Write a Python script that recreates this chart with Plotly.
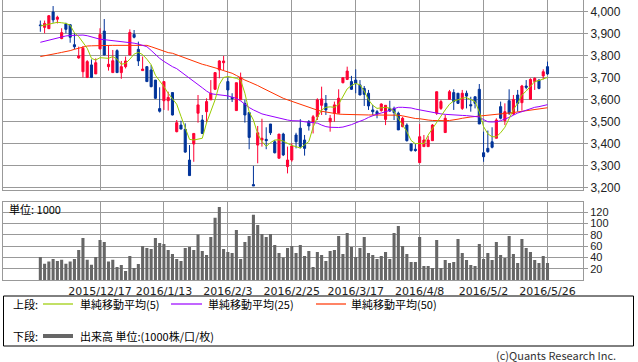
import plotly.graph_objects as go

# ---------------- data ----------------
dates = [
    "2015/11/27", "2015/11/30", "2015/12/1", "2015/12/2", "2015/12/3", "2015/12/4", "2015/12/7", "2015/12/8",
    "2015/12/9", "2015/12/10", "2015/12/11", "2015/12/14", "2015/12/15", "2015/12/16", "2015/12/17", "2015/12/18",
    "2015/12/21", "2015/12/22", "2015/12/24", "2015/12/25", "2015/12/28", "2015/12/29", "2015/12/30", "2016/1/4",
    "2016/1/5", "2016/1/6", "2016/1/7", "2016/1/8", "2016/1/12", "2016/1/13", "2016/1/14", "2016/1/15",
    "2016/1/18", "2016/1/19", "2016/1/20", "2016/1/21", "2016/1/22", "2016/1/25", "2016/1/26", "2016/1/27",
    "2016/1/28", "2016/1/29", "2016/2/1", "2016/2/2", "2016/2/3", "2016/2/4", "2016/2/5", "2016/2/8",
    "2016/2/9", "2016/2/10", "2016/2/12", "2016/2/15", "2016/2/16", "2016/2/17", "2016/2/18", "2016/2/19",
    "2016/2/22", "2016/2/23", "2016/2/24", "2016/2/25", "2016/2/26", "2016/2/29", "2016/3/1", "2016/3/2",
    "2016/3/3", "2016/3/4", "2016/3/7", "2016/3/8", "2016/3/9", "2016/3/10", "2016/3/11", "2016/3/14",
    "2016/3/15", "2016/3/16", "2016/3/17", "2016/3/18", "2016/3/22", "2016/3/23", "2016/3/24", "2016/3/25",
    "2016/3/28", "2016/3/29", "2016/3/30", "2016/3/31", "2016/4/1", "2016/4/4", "2016/4/5", "2016/4/6",
    "2016/4/7", "2016/4/8", "2016/4/11", "2016/4/12", "2016/4/13", "2016/4/14", "2016/4/15", "2016/4/18",
    "2016/4/19", "2016/4/20", "2016/4/21", "2016/4/22", "2016/4/25", "2016/4/26", "2016/4/27", "2016/4/28",
    "2016/5/2", "2016/5/6", "2016/5/9", "2016/5/10", "2016/5/11", "2016/5/12", "2016/5/13", "2016/5/16",
    "2016/5/17", "2016/5/18", "2016/5/19", "2016/5/20", "2016/5/23", "2016/5/24", "2016/5/25", "2016/5/26",
]

open_ = [
    3941, 3930, 3924, 4000, 3967, 3879, 3945, 3942, 3851, 3791, 3728, 3702, 3759, 3718, 3832, 3913,
    3751, 3724, 3824, 3724, 3751, 3804, 3898, 3830, 3733, 3751, 3736, 3690, 3560, 3596, 3596, 3633,
    3455, 3485, 3466, 3326, 3399, 3539, 3508, 3546, 3600, 3648, 3736, 3769, 3683, 3611, 3551, 3600,
    3584, 3542, 3214, 3394, 3417, 3420, 3490, 3409, 3334, 3444, 3296, 3326, 3440, 3471, 3417, 3500,
    3500, 3523, 3575, 3584, 3500, 3539, 3539, 3678, 3693, 3683, 3690, 3668, 3652, 3630, 3554, 3546,
    3551, 3511, 3561, 3561, 3539, 3478, 3485, 3399, 3375, 3314, 3387, 3387, 3414, 3539, 3561, 3451,
    3602, 3633, 3630, 3561, 3630, 3578, 3614, 3648, 3359, 3379, 3409, 3425, 3569, 3505, 3596, 3536,
    3622, 3587, 3663, 3602, 3683, 3690, 3709, 3751,
]
high = [
    3961, 3961, 3986, 4027, 3983, 3926, 3951, 3945, 3903, 3842, 3845, 3781, 3784, 3789, 3926, 3968,
    3847, 3827, 3830, 3777, 3797, 3921, 3918, 3865, 3797, 3754, 3759, 3690, 3657, 3683, 3637, 3633,
    3508, 3505, 3493, 3394, 3447, 3622, 3531, 3607, 3690, 3724, 3781, 3800, 3702, 3630, 3678, 3724,
    3600, 3542, 3299, 3481, 3514, 3475, 3490, 3417, 3444, 3450, 3387, 3402, 3450, 3512, 3440, 3508,
    3531, 3607, 3660, 3622, 3531, 3592, 3648, 3701, 3751, 3709, 3739, 3690, 3663, 3645, 3577, 3554,
    3584, 3575, 3596, 3569, 3546, 3523, 3493, 3402, 3399, 3490, 3440, 3435, 3490, 3637, 3600, 3531,
    3645, 3648, 3630, 3645, 3642, 3614, 3614, 3672, 3455, 3460, 3475, 3516, 3592, 3584, 3648, 3622,
    3645, 3668, 3690, 3698, 3702, 3693, 3739, 3774,
]
low = [
    3910, 3903, 3923, 3951, 3948, 3876, 3903, 3860, 3830, 3787, 3702, 3699, 3699, 3718, 3830, 3804,
    3733, 3724, 3724, 3696, 3743, 3804, 3880, 3754, 3733, 3683, 3657, 3604, 3542, 3554, 3551, 3529,
    3452, 3466, 3359, 3255, 3318, 3496, 3444, 3496, 3600, 3645, 3698, 3733, 3600, 3590, 3551, 3600,
    3496, 3375, 3208, 3311, 3387, 3375, 3440, 3356, 3334, 3344, 3265, 3318, 3379, 3379, 3346, 3460,
    3447, 3508, 3531, 3531, 3455, 3500, 3539, 3675, 3690, 3645, 3630, 3622, 3572, 3554, 3531, 3516,
    3546, 3485, 3546, 3508, 3463, 3475, 3410, 3364, 3364, 3314, 3387, 3387, 3414, 3531, 3554, 3451,
    3600, 3554, 3581, 3554, 3561, 3546, 3561, 3490, 3318, 3359, 3379, 3425, 3511, 3485, 3531, 3531,
    3546, 3551, 3648, 3602, 3645, 3648, 3693, 3713,
]
close = [
    3938, 3948, 3983, 3964, 3976, 3906, 3921, 3885, 3842, 3800, 3835, 3774, 3702, 3769, 3898, 3804,
    3762, 3778, 3724, 3751, 3777, 3907, 3885, 3777, 3740, 3683, 3660, 3607, 3548, 3683, 3611, 3531,
    3496, 3467, 3362, 3255, 3447, 3577, 3447, 3592, 3630, 3724, 3777, 3777, 3645, 3605, 3678, 3702,
    3531, 3429, 3208, 3450, 3425, 3414, 3450, 3359, 3444, 3349, 3326, 3390, 3409, 3387, 3379, 3481,
    3523, 3600, 3604, 3554, 3516, 3577, 3607, 3701, 3731, 3648, 3675, 3622, 3625, 3572, 3546, 3536,
    3581, 3575, 3549, 3542, 3463, 3516, 3414, 3369, 3369, 3432, 3417, 3417, 3485, 3637, 3592, 3516,
    3637, 3592, 3584, 3630, 3617, 3573, 3584, 3490, 3341, 3364, 3384, 3508, 3516, 3546, 3539, 3602,
    3584, 3663, 3657, 3693, 3698, 3652, 3728, 3718,
]

ma5 = [
    3936, 3940, 3944, 3948, 3953, 3951, 3948, 3940, 3905, 3888, 3860, 3835, 3789, 3781, 3792, 3790,
    3789, 3797, 3785, 3762, 3766, 3785, 3808, 3816, 3806, 3785, 3760, 3712, 3688, 3660, 3630, 3607,
    3580, 3525, 3470, 3420, 3417, 3420, 3425, 3495, 3550, 3600, 3670, 3702, 3706, 3702, 3698, 3690,
    3630, 3545, 3508, 3445, 3410, 3388, 3405, 3417, 3418, 3412, 3400, 3392, 3387, 3380, 3395, 3410,
    3475, 3520, 3554, 3566, 3568, 3566, 3580, 3615, 3650, 3665, 3675, 3668, 3640, 3600, 3575, 3561,
    3564, 3566, 3562, 3548, 3515, 3485, 3455, 3415, 3400, 3402, 3400, 3440, 3470, 3500, 3530, 3554,
    3580, 3595, 3600, 3608, 3610, 3600, 3592, 3545, 3478, 3445, 3432, 3432, 3450, 3475, 3515, 3555,
    3585, 3622, 3640, 3660, 3683, 3688, 3696, 3702,
]
ma25 = [
    3862, 3867, 3871, 3876, 3881, 3886, 3891, 3893, 3894, 3895, 3895, 3892, 3886, 3881, 3876, 3874,
    3872, 3870, 3868, 3866, 3865, 3862, 3858, 3854, 3848, 3842, 3825, 3805, 3789, 3775, 3762, 3751,
    3742, 3728, 3713, 3700, 3685, 3670, 3655, 3640, 3628, 3625, 3623, 3622, 3618, 3612, 3607, 3595,
    3578, 3565, 3554, 3545, 3536, 3531, 3526, 3521, 3516, 3512, 3508, 3505, 3505, 3504, 3500, 3497,
    3497, 3494, 3485, 3478, 3475, 3474, 3474, 3476, 3480, 3487, 3495, 3502, 3510, 3520, 3528, 3535,
    3540, 3545, 3552, 3560, 3566, 3566, 3565, 3563, 3558, 3554, 3550, 3546, 3542, 3539, 3536, 3534,
    3532, 3531, 3530, 3529, 3528, 3527, 3526, 3522, 3510, 3500, 3499, 3500, 3505, 3511, 3520, 3530,
    3540, 3546, 3553, 3560, 3566, 3569, 3572, 3578,
]
ma50 = [
    3797, 3800, 3804, 3808, 3812, 3816, 3819, 3824, 3830, 3835, 3840, 3845, 3846, 3847, 3848, 3848,
    3848, 3848, 3848, 3848, 3848, 3848, 3848, 3848, 3848, 3848, 3842, 3835, 3828, 3820, 3815, 3812,
    3805, 3797, 3789, 3782, 3775, 3767, 3762, 3757, 3752, 3746, 3740, 3733, 3727, 3721, 3711, 3700,
    3690, 3682, 3675, 3665, 3655, 3645, 3635, 3625, 3616, 3607, 3600, 3593, 3587, 3582, 3574, 3566,
    3560, 3553, 3548, 3544, 3540, 3537, 3535, 3534, 3533, 3532, 3531, 3531, 3531, 3531, 3531, 3531,
    3531, 3531, 3531, 3531, 3530, 3527, 3522, 3518, 3515, 3514, 3510, 3508, 3506, 3505, 3505, 3505,
    3506, 3508, 3512, 3516, 3520, 3522, 3524, 3526, 3527, 3528, 3529, 3531, 3533, 3536, 3539, 3542,
    3545, 3548, 3551, 3554, 3557, 3560, 3562, 3564,
]

volume = [
    41, 29, 33, 37.6, 34, 36, 29, 33, 37.6, 53.5, 74.6, 36, 27.6, 41, 71, 67.5,
    33, 36, 23.5, 27, 16.4, 43, 21.7, 28.8, 60.5, 57, 55, 74.6, 65.8, 64, 53.5, 46.4,
    37.6, 34, 57, 58.7, 53.5, 80.5, 51.7, 44.6, 76.4, 110, 129, 55, 50, 48, 88.7, 37.6,
    67.5, 78, 115.7, 97.5, 81.6, 76.4, 81.6, 62, 48, 40, 57, 60.5,
    48, 62, 43, 51.7, 23.5, 50, 44.6, 34, 51.7, 53.5, 78, 46.4, 83.4, 58.7, 41, 57,
    76.4, 48, 44.6, 37.6, 43, 50, 37.6, 83.4, 95.7, 60.5, 46.4, 32.3, 32.3, 76.4, 25.3, 25.3,
    21.7, 71, 21.7, 35.8, 30.5, 32.3, 72.8, 48, 35.8, 27, 25.3, 64, 37.6, 48, 35.8, 67.5,
    44.6, 39.4, 78, 46.4, 30.5, 72.8, 57, 50, 35.8, 30.5, 43, 30.5,
]

tick_dates = ["2015/12/17", "2016/1/13", "2016/2/3", "2016/2/25", "2016/3/17", "2016/4/8", "2016/5/2", "2016/5/26"]
price_ticks = [3200, 3300, 3400, 3500, 3600, 3700, 3800, 3900, 4000]
volume_ticks = [20, 40, 60, 80, 100, 120]

legend_labels = ["単純移動平均(5)", "単純移動平均(25)", "単純移動平均(50)"]
volume_label = "出来高 単位:(1000株/口/枚)"

# ---------------- style ----------------
W, H = 638, 362
ML, MR = 3, 55
PW = W - ML - MR
RED = "#ff0033"
BLUE = "#003399"
GRID = "#999999"
C5, C25, C50 = "#99cc00", "#9900ff", "#ff3300"
VOLC = "#666666"
NUMFONT = "Liberation Sans, Arial, sans-serif"
DATEFONT = "DejaVu Sans, sans-serif"
JPFONT = "Noto Sans CJK JP, sans-serif"


def px(x):
    return (x - ML) / PW


def py(y):
    return 1 - y / H


fig = go.Figure()
fig.add_trace(go.Candlestick(
    x=dates, open=open_, high=high, low=low, close=close,
    increasing=dict(line=dict(color=RED, width=1), fillcolor=RED),
    decreasing=dict(line=dict(color=BLUE, width=1), fillcolor=BLUE),
    whiskerwidth=0, xaxis="x", yaxis="y", showlegend=False, hoverinfo="skip",
))
for vals, col in [(ma50, C50), (ma25, C25), (ma5, C5)]:
    fig.add_trace(go.Scatter(x=dates, y=vals, mode="lines", line=dict(color=col, width=1),
                             xaxis="x", yaxis="y", showlegend=False, hoverinfo="skip"))
fig.add_trace(go.Bar(x=dates, y=volume, marker=dict(color=VOLC, line=dict(width=0)),
                     xaxis="x2", yaxis="y2", showlegend=False, hoverinfo="skip"))

xr = [-8.76, 127.33]
common_x = dict(type="category", range=xr, tickvals=tick_dates, ticktext=tick_dates,
                showgrid=True, gridcolor=GRID, gridwidth=1, showline=True, linecolor=GRID,
                linewidth=1, mirror=True, ticks="", zeroline=False, automargin=False)
fig.update_layout(
    width=W, height=H, template="none",
    paper_bgcolor="white", plot_bgcolor="white",
    margin=dict(l=ML, r=MR, t=0, b=0, pad=0),
    bargap=0.28, boxgap=0.3,
    xaxis=dict(**common_x, domain=[0, 1], anchor="y", showticklabels=False,
               rangeslider=dict(visible=False)),
    yaxis=dict(domain=[py(190), 1], range=[3189.4, 4054.6], side="right", tickvals=price_ticks,
               tickformat=",d", ticks="outside", ticklen=4, tickcolor=GRID, showgrid=True,
               gridcolor=GRID, showline=True, linecolor=GRID, mirror=True, zeroline=False,
               tickfont=dict(family=NUMFONT, size=12, color="#222"), automargin=False),
    xaxis2=dict(**common_x, domain=[0, 1], anchor="y2", matches="x",
                tickfont=dict(family=DATEFONT, size=11, color="#222")),
    yaxis2=dict(domain=[py(280.3), py(201.7)], range=[0, 138.5], side="right",
                tickvals=volume_ticks, ticks="outside", ticklen=4, tickcolor=GRID, showgrid=True,
                gridcolor=GRID, showline=True, linecolor=GRID, mirror=True, zeroline=False,
                tickfont=dict(family=NUMFONT, size=11, color="#222"), automargin=False),
)

shapes = [
    dict(type="rect", xref="paper", yref="paper", x0=px(3.5), x1=px(633.5), y0=py(346), y1=py(296),
         line=dict(color="black", width=1), fillcolor="rgba(0,0,0,0)"),
]
for (x0, x1), col in zip([(43, 73), (171, 202), (316, 346)], [C5, C25, C50]):
    shapes.append(dict(type="line", xref="paper", yref="paper", x0=px(x0), x1=px(x1),
                       y0=py(304), y1=py(304), line=dict(color=col, width=1.2)))
shapes.append(dict(type="line", xref="paper", yref="paper", x0=px(43), x1=px(73),
                   y0=py(336), y1=py(336), line=dict(color=VOLC, width=4)))
fig.update_layout(shapes=shapes)

ann = []


def txt(x, y, s, size=11, font=JPFONT, anchor="left", color="#000"):
    ann.append(dict(x=px(x), y=py(y), xref="paper", yref="paper", text=s, showarrow=False,
                    xanchor=anchor, yanchor="middle", font=dict(family=font, size=size, color=color)))


txt(7, 209, "単位: 1000", size=11)
txt(11, 304, "上段:")
txt(78, 304, legend_labels[0])
txt(206, 304, legend_labels[1])
txt(349, 304, legend_labels[2])
txt(11, 336, "下段:")
txt(78, 336, volume_label)
txt(618, 355, "(c)Quants Research Inc.", size=11, anchor="right", color="#333")
fig.update_layout(annotations=ann)

fig.write_html("out.html", config={"displayModeBar": False, "staticPlot": True},
               post_script="document.body.style.margin='0';document.body.style.overflow='hidden';")
